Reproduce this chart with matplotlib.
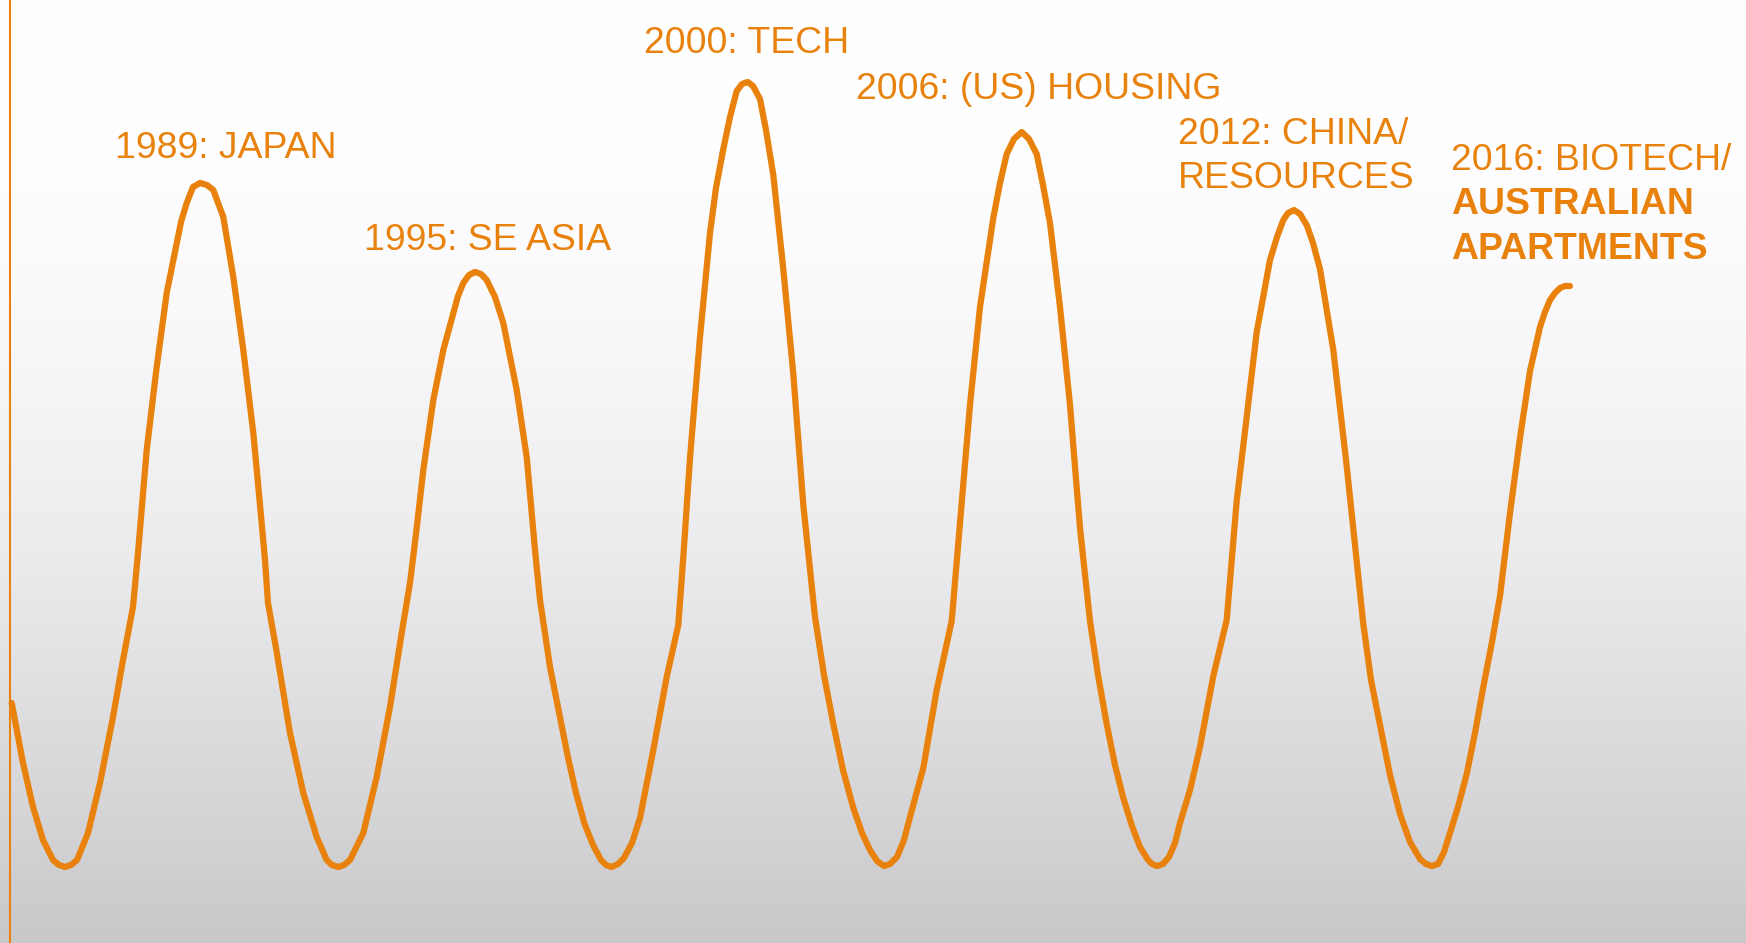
import numpy as np
import matplotlib.pyplot as plt

plt.rcParams['font.family'] = ['Liberation Sans', 'DejaVu Sans']

ORANGE = '#E8820C'
W, H = 1746, 943

# boom/bust cycle, one row per swing: horizontal position ...
cycle_x = [
    11.7, 23, 33, 43, 53, 59, 65, 71, 77, 88, 100, 113, 123, 133, 138, 146.7,
    156.7, 166.7, 176.7, 181, 186.7, 193, 200, 207, 213.3, 223.3, 233.3, 243.3,
    253.3, 260, 265, 268, 276, 290, 303.3, 316.7, 326.7, 332, 338.3,
    344, 350, 363.3, 376.7, 390, 401.7, 410, 416.7, 423.3, 433.3, 443.3, 453.3,
    458, 463.3, 469, 475, 481, 486.7, 495, 503.3, 516.7, 526.7, 535, 540, 550,
    567.9, 576, 584.6, 593, 601, 606, 611.7,
    618, 624, 632, 640, 653.3, 666.7, 678.3, 683.3, 690, 700, 710, 716, 723.3,
    730, 736.7, 742, 747.7, 753, 760, 766, 773.3, 783.3, 793.3, 803.3, 815, 824,
    833.3, 843, 853.3, 862, 870, 877, 884,
    890, 897, 904, 910, 923.3, 936.7, 951.7, 960, 970, 980, 993.3, 1000, 1006.7,
    1014, 1021.7, 1029, 1036.7, 1043, 1050, 1060, 1070, 1080, 1090, 1098,
    1106.7, 1115, 1123.3, 1132, 1140, 1148, 1152, 1157,
    1163, 1169, 1175, 1180, 1190, 1200, 1213.3, 1226.7, 1236.7, 1246.7, 1256.7,
    1270, 1277, 1283.3, 1288, 1294, 1300, 1306.7, 1313, 1320, 1333.3, 1346.7,
    1363.3, 1371, 1380, 1390, 1400, 1410, 1420, 1426, 1431.7,
    1438, 1444, 1450, 1458, 1466.7, 1475, 1483.3, 1492, 1500, 1510, 1520, 1530,
    1540, 1545, 1550, 1555, 1560, 1565, 1570,
]
# ... and distance down from the top edge
cycle_depth = [
    703, 763, 807, 840, 860, 865, 867, 865, 860, 833, 783, 717, 660, 607, 553, 450,
    367, 293, 243, 222, 203, 187, 183, 185, 190, 217, 277, 350,
    433, 505, 560, 603, 648, 733, 793, 837, 860, 865, 867,
    865, 860, 833, 777, 707, 633, 583, 528, 470, 400, 350, 313,
    296, 283, 275, 272, 274, 280, 297, 323, 390, 457, 550, 600, 667,
    757, 793, 824, 845, 860, 865, 867,
    864, 858, 843, 818, 750, 677, 625, 557, 458, 337, 233, 188, 149,
    117, 91, 84, 82, 86, 99, 130, 175, 269, 374, 505, 617, 675,
    724, 770, 808, 833, 850, 861, 866,
    864, 857, 840, 817, 768, 690, 621, 523, 405, 307, 218, 183, 154,
    139, 132, 139, 154, 185, 223, 307, 405, 528, 621, 675,
    724, 765, 798, 826, 847, 860, 864, 866,
    864, 857, 843, 823, 790, 747, 676, 620, 501, 417, 332,
    260, 237, 220, 213, 210, 214, 225, 243, 269, 350, 466,
    624, 680, 725, 775, 814, 842, 859, 864, 866,
    864, 852, 833, 807, 774, 733, 687, 642, 596, 513, 438, 371,
    327, 312, 300, 293, 288, 286, 286,
]
cycle_level = [H - d for d in cycle_depth]

# bubble labels: text lines and which of them are bold
labels = [
    (['1989: JAPAN'], [False]),
    (['1995: SE ASIA'], [False]),
    (['2000: TECH'], [False]),
    (['2006: (US) HOUSING'], [False]),
    (['2012: CHINA/', 'RESOURCES'], [False, False]),
    (['2016: BIOTECH/', 'AUSTRALIAN', 'APARTMENTS'], [False, True, True]),
]
label_pos = [(114.7, H - 158.5), (363.5, H - 250), (644.3, H - 52.7),
             (856.3, H - 99), (1178, H - 143.8), (1450.7, H - 170)]
line_step = 44.5

fig = plt.figure(figsize=(W / 100, H / 100), dpi=100)
ax = fig.add_axes([0, 0, 1, 1])
ax.set_xlim(0, W)
ax.set_ylim(0, H)
ax.axis('off')

# white-to-grey backdrop
stops_y = [0, 150, 300, 550, 780, 943]
stops_v = [255, 254, 250, 236, 216, 200]
rows = np.arange(H)
grey = np.interp(rows, stops_y, stops_v) / 255.0
bg = np.stack([grey, grey, np.clip(grey + 0.008, 0, 1)], axis=1)[:, None, :]
ax.imshow(bg, extent=(0, W, 0, H), aspect='auto', origin='upper', zorder=0)

ax.axvline(9.5, color=ORANGE, lw=1.5, zorder=2)
ax.plot(cycle_x, cycle_level, color=ORANGE, lw=4.5,
        solid_joinstyle='round', solid_capstyle='round', zorder=3)

for (lines, bolds), (lx, ly) in zip(labels, label_pos):
    for i, (txt, b) in enumerate(zip(lines, bolds)):
        ax.text(lx, ly - i * line_step, txt, color=ORANGE, fontsize=26.9,
                fontweight='bold' if b else 'normal',
                ha='left', va='baseline', zorder=4)

fig.savefig('out.png', dpi=100)
